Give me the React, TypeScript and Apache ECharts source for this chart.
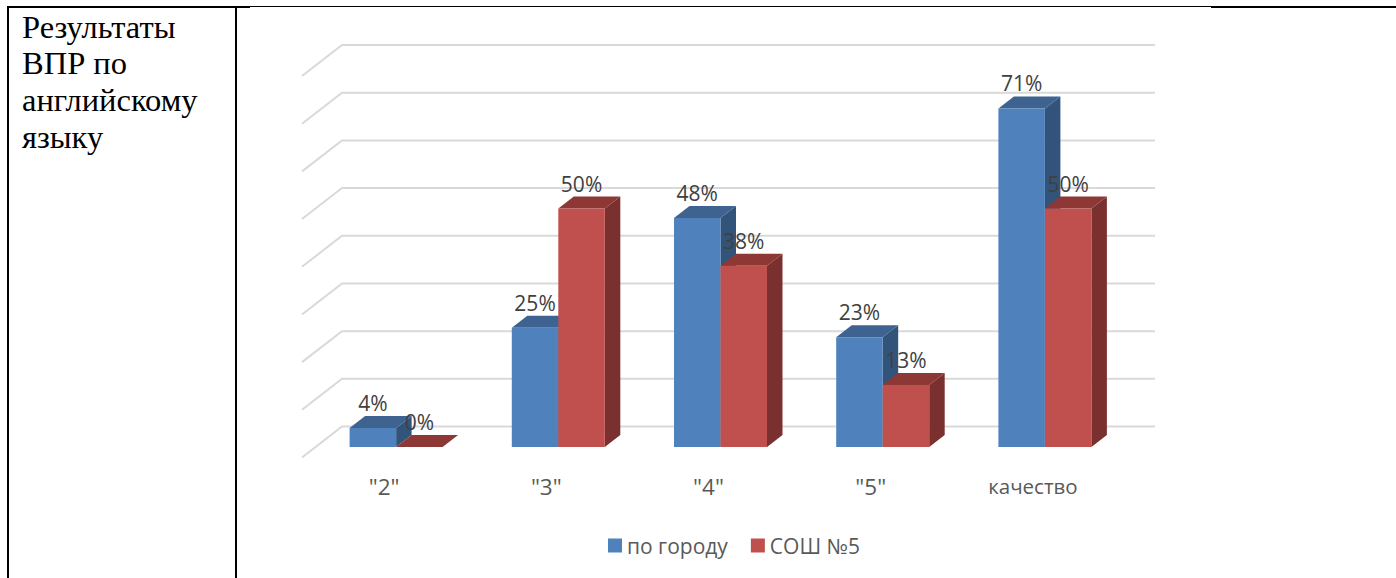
import React, { useEffect, useRef } from "react";
import * as echarts from "echarts";

const categories = ['"2"', '"3"', '"4"', '"5"', "качество"];
const cityName = "по городу";
const schoolName = "СОШ №5";
const cityValues = [4, 25, 48, 23, 71];
const schoolValues = [0, 50, 38, 13, 50];
const gridLevels = [0, 10, 20, 30, 40, 50, 60, 70, 80];
const cellLines = ["Результаты", "ВПР по", "английскому", "языку"];

const sans = '"Open Sans", sans-serif';
const BAR_W = 46.5;
const DX = 15.5;
const DY = 12;

function bar3d(side: "left" | "right", topColor: string, sideColor: string) {
  return (_p: any, api: any) => {
    const i = api.value(0);
    const v = api.value(1);
    const top = api.coord([i, v]);
    const base = api.coord([i, 0]);
    const x0 = side === "left" ? top[0] - BAR_W : top[0];
    const x1 = x0 + BAR_W;
    return {
      type: "group",
      children: [
        {
          type: "polygon",
          shape: { points: [[x1, top[1]], [x1 + DX, top[1] - DY], [x1 + DX, base[1] - DY], [x1, base[1]]] },
          style: { fill: sideColor },
        },
        {
          type: "polygon",
          shape: { points: [[x0, top[1]], [x0 + DX, top[1] - DY], [x1 + DX, top[1] - DY], [x1, top[1]]] },
          style: { fill: topColor },
        },
      ],
    };
  };
}

function wallLine(p: any, api: any) {
  const y = api.coord([0, api.value(1)])[1];
  const { x, width } = p.coordSys;
  return {
    type: "polyline",
    shape: { points: [[x - 13, y + 10.5], [x + 27, y - 20.5], [x + width + 29, y - 20.5]] },
    style: { fill: "none", stroke: "#D9D9D9", lineWidth: 2 },
  };
}

const rule = (x1: number, y1: number, x2: number, y2: number, lineWidth: number) => ({
  type: "line",
  shape: { x1, y1, x2, y2 },
  style: { stroke: "#000", lineWidth },
});

export default function App() {
  const ref = useRef<HTMLDivElement>(null);
  useEffect(() => {
    const chart = echarts.init(ref.current!, null, { renderer: "svg" });
    const dataLabel = {
      show: true,
      position: "top" as const,
      distance: 14.5,
      formatter: "{c}%",
      color: "#404040",
      fontFamily: sans,
      fontSize: 21,
    };
    chart.setOption({
      animation: false,
      backgroundColor: "#fff",
      grid: { left: 315, top: 65.5, width: 811, height: 381.5 },
      legend: {
        data: [cityName, schoolName],
        left: 608,
        top: 535,
        padding: 0,
        icon: "rect",
        itemWidth: 14,
        itemHeight: 14,
        itemGap: 23,
        textStyle: { color: "#595959", fontFamily: sans, fontSize: 21 },
      },
      xAxis: {
        type: "category",
        data: categories.map((c) => (c === "качество" ? { value: c, textStyle: { fontSize: 20.5 } } : c)),
        axisLine: { show: false },
        axisTick: { show: false },
        axisLabel: { margin: 28, color: "#595959", fontFamily: sans, fontSize: 22.5, padding: [0, 24, 0, 0] },
      },
      yAxis: {
        type: "value",
        min: 0,
        max: 80,
        interval: 10,
        axisLabel: { show: false },
        axisLine: { show: false },
        axisTick: { show: false },
        splitLine: { show: false },
      },
      series: [
        { type: "custom", z: 1, silent: true, clip: false, data: gridLevels.map((v) => [0, v]), renderItem: wallLine },
        { type: "custom", z: 3, silent: true, clip: false, data: cityValues.map((v, i) => [i, v]), renderItem: bar3d("left", "#3E6390", "#32547B") },
        { type: "custom", z: 4, silent: true, clip: false, data: schoolValues.map((v, i) => [i, v]), renderItem: bar3d("right", "#8E3836", "#7A302E") },
        { type: "bar", name: cityName, z: 5, data: cityValues, barWidth: BAR_W, barGap: 0, itemStyle: { color: "#4F81BD" }, label: dataLabel },
        { type: "bar", name: schoolName, z: 5, data: schoolValues, barWidth: BAR_W, barGap: 0, itemStyle: { color: "#C0504D" }, label: dataLabel },
      ],
      graphic: [
        rule(8, 7, 250, 7, 2),
        rule(250, 6.5, 1211, 6.5, 1),
        rule(1211, 7, 1396, 7, 2),
        rule(8, 6, 8, 578, 2),
        rule(236, 7, 236, 578, 2),
        ...cellLines.map((text, i) => ({
          type: "text",
          x: 22,
          y: 10 + i * 36.7,
          style: { text, fill: "#000", fontFamily: '"Liberation Serif", serif', fontSize: 32.5 },
        })),
      ],
    });
    return () => chart.dispose();
  }, []);
  return <div ref={ref} style={{ position: "fixed", left: 0, top: 0, width: 1396, height: 578 }} />;
}
